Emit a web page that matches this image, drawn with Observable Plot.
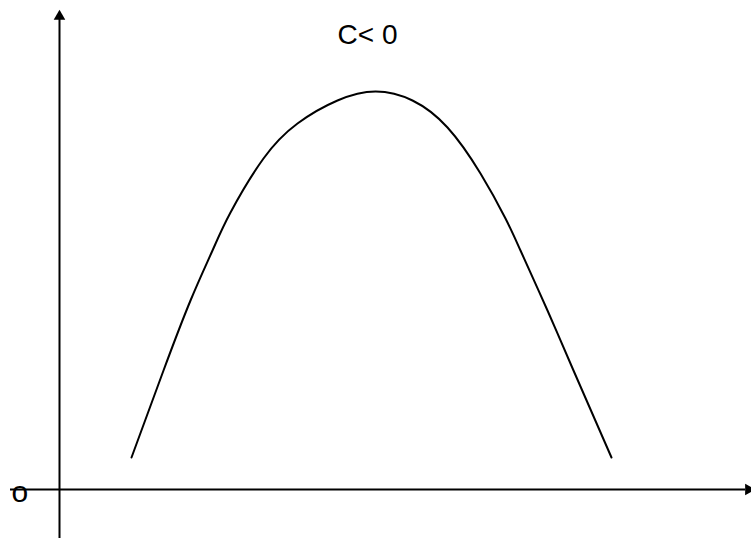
<!DOCTYPE html>
<html>
<head>
<meta charset="utf-8">
<script src="https://cdn.jsdelivr.net/npm/d3@7"></script>
<script src="https://cdn.jsdelivr.net/npm/@observablehq/plot@0.6"></script>
<style>
  html, body { margin: 0; padding: 0; background: #fff; }
  #chart { width: 751px; height: 538px; }
</style>
</head>
<body>
<div id="chart"></div>
<script>
// Curve sample points (x, y) in chart units, origin at axes crossing
const curveX = [72, 104, 131, 153, 171, 204, 238, 278, 316, 353, 388, 421, 446, 461, 488, 514, 552];
const curveY = [32, 119, 189, 239, 277, 331, 366, 389, 398, 389, 362, 316, 271, 239, 179, 119, 32];

// Axis extents
const xAxisFrom = -49, xAxisTo = 686, xArrowAt = 689;
const yAxisFrom = -49, yAxisTo = 471, yArrowAt = 473;

// Texts
const titleText = "C< 0";
const titleX = 308, titleY = 454;
const originLabel = "o";
const originX = -48, originY = -3;

const curve = curveX.map((x, i) => ({x, y: curveY[i]}));

const chart = Plot.plot({
  width: 751,
  height: 538,
  marginTop: 0, marginRight: 0, marginBottom: 0, marginLeft: 0,
  x: {domain: [-59, 692], axis: null},
  y: {domain: [-49, 489], axis: null},
  style: {fontFamily: "'Liberation Sans', Arial, sans-serif", background: "#fff"},
  marks: [
    Plot.ruleY([0], {x1: xAxisFrom, x2: xAxisTo, stroke: "#000", strokeWidth: 2}),
    Plot.ruleX([0], {y1: yAxisFrom, y2: yAxisTo, stroke: "#000", strokeWidth: 2}),
    Plot.dot([{x: 0, y: yArrowAt}], {x: "x", y: "y", symbol: "triangle", r: 4.3, fill: "#000", stroke: null}),
    Plot.dot([{x: xArrowAt, y: 0}], {x: "x", y: "y", symbol: "triangle", r: 4.3, fill: "#000", stroke: null, rotate: 90}),
    Plot.line(curve, {x: "x", y: "y", curve: "natural", stroke: "#000", strokeWidth: 2}),
    Plot.text([titleText], {x: titleX, y: titleY, text: d => d, fontSize: 28, fill: "#000"}),
    Plot.text([originLabel], {x: originX, y: originY, text: d => d, fontSize: 30, textAnchor: "start", fill: "#000"})
  ]
});
document.getElementById("chart").appendChild(chart);
</script>
</body>
</html>
